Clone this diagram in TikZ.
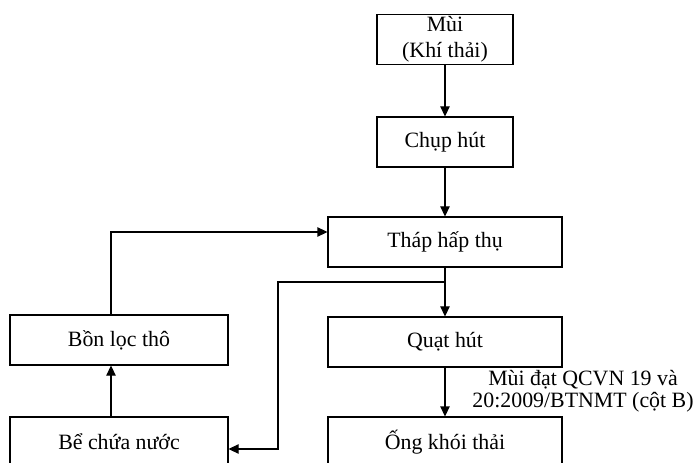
\documentclass[tikz,border=0pt]{standalone}
\usepackage{fontspec}
\setmainfont{Liberation Serif}
\usetikzlibrary{arrows.meta}

\begin{document}
\begin{tikzpicture}[x=0.75pt,y=-0.75pt,line width=0.8pt,
    box/.style={draw,rectangle,minimum height=37.5pt,inner sep=0pt,align=center,
      font=\fontsize{16.4}{19.5}\selectfont},
    arr/.style={-{Triangle[length=7.5pt,width=7pt]}}]
  \useasboundingbox (0,0) rectangle (696,463);
  \node[box,minimum width=102pt] (mui) at (445,39.5) {Mùi\\(Khí thải)};
  \node[box,minimum width=102pt] (chup) at (445,142) {Chụp hút};
  \node[box,minimum width=175.5pt] (thap) at (445,242) {Tháp hấp thụ};
  \node[box,minimum width=175.5pt] (quat) at (445,342) {Quạt hút};
  \node[box,minimum width=175.5pt] (ong) at (445,442) {Ống khói thải};
  \node[box,minimum width=163.5pt] (bon) at (119,340) {Bồn lọc thô};
  \node[box,minimum width=163.5pt] (be) at (119,442) {Bể chứa nước};
  \node[align=center,inner sep=0pt,font=\fontsize{16.4}{16.5}\selectfont] (lbl) at (583,391)
    {Mùi đạt QCVN 19 và\\20:2009/BTNMT (cột B)};
  % main line
  \draw[arr] (mui) -- (chup);
  \draw[arr] (chup) -- (thap);
  \draw[arr] (thap) -- (quat);
  \draw[arr] (quat) -- (ong);
  % water loop
  \coordinate (feed) at (111,232);
  \coordinate (split) at (445,282);
  \coordinate (bend) at (278,282);
  \coordinate (ret) at (278,449);
  \draw[arr] (be.north -| feed) -- (bon.south -| feed);
  \draw[arr] (bon.north -| feed) -- (feed) -- (thap.west |- feed);
  \draw[arr] (split) -- (bend) -- (ret) -- (be.east |- ret);
\end{tikzpicture}
\end{document}
